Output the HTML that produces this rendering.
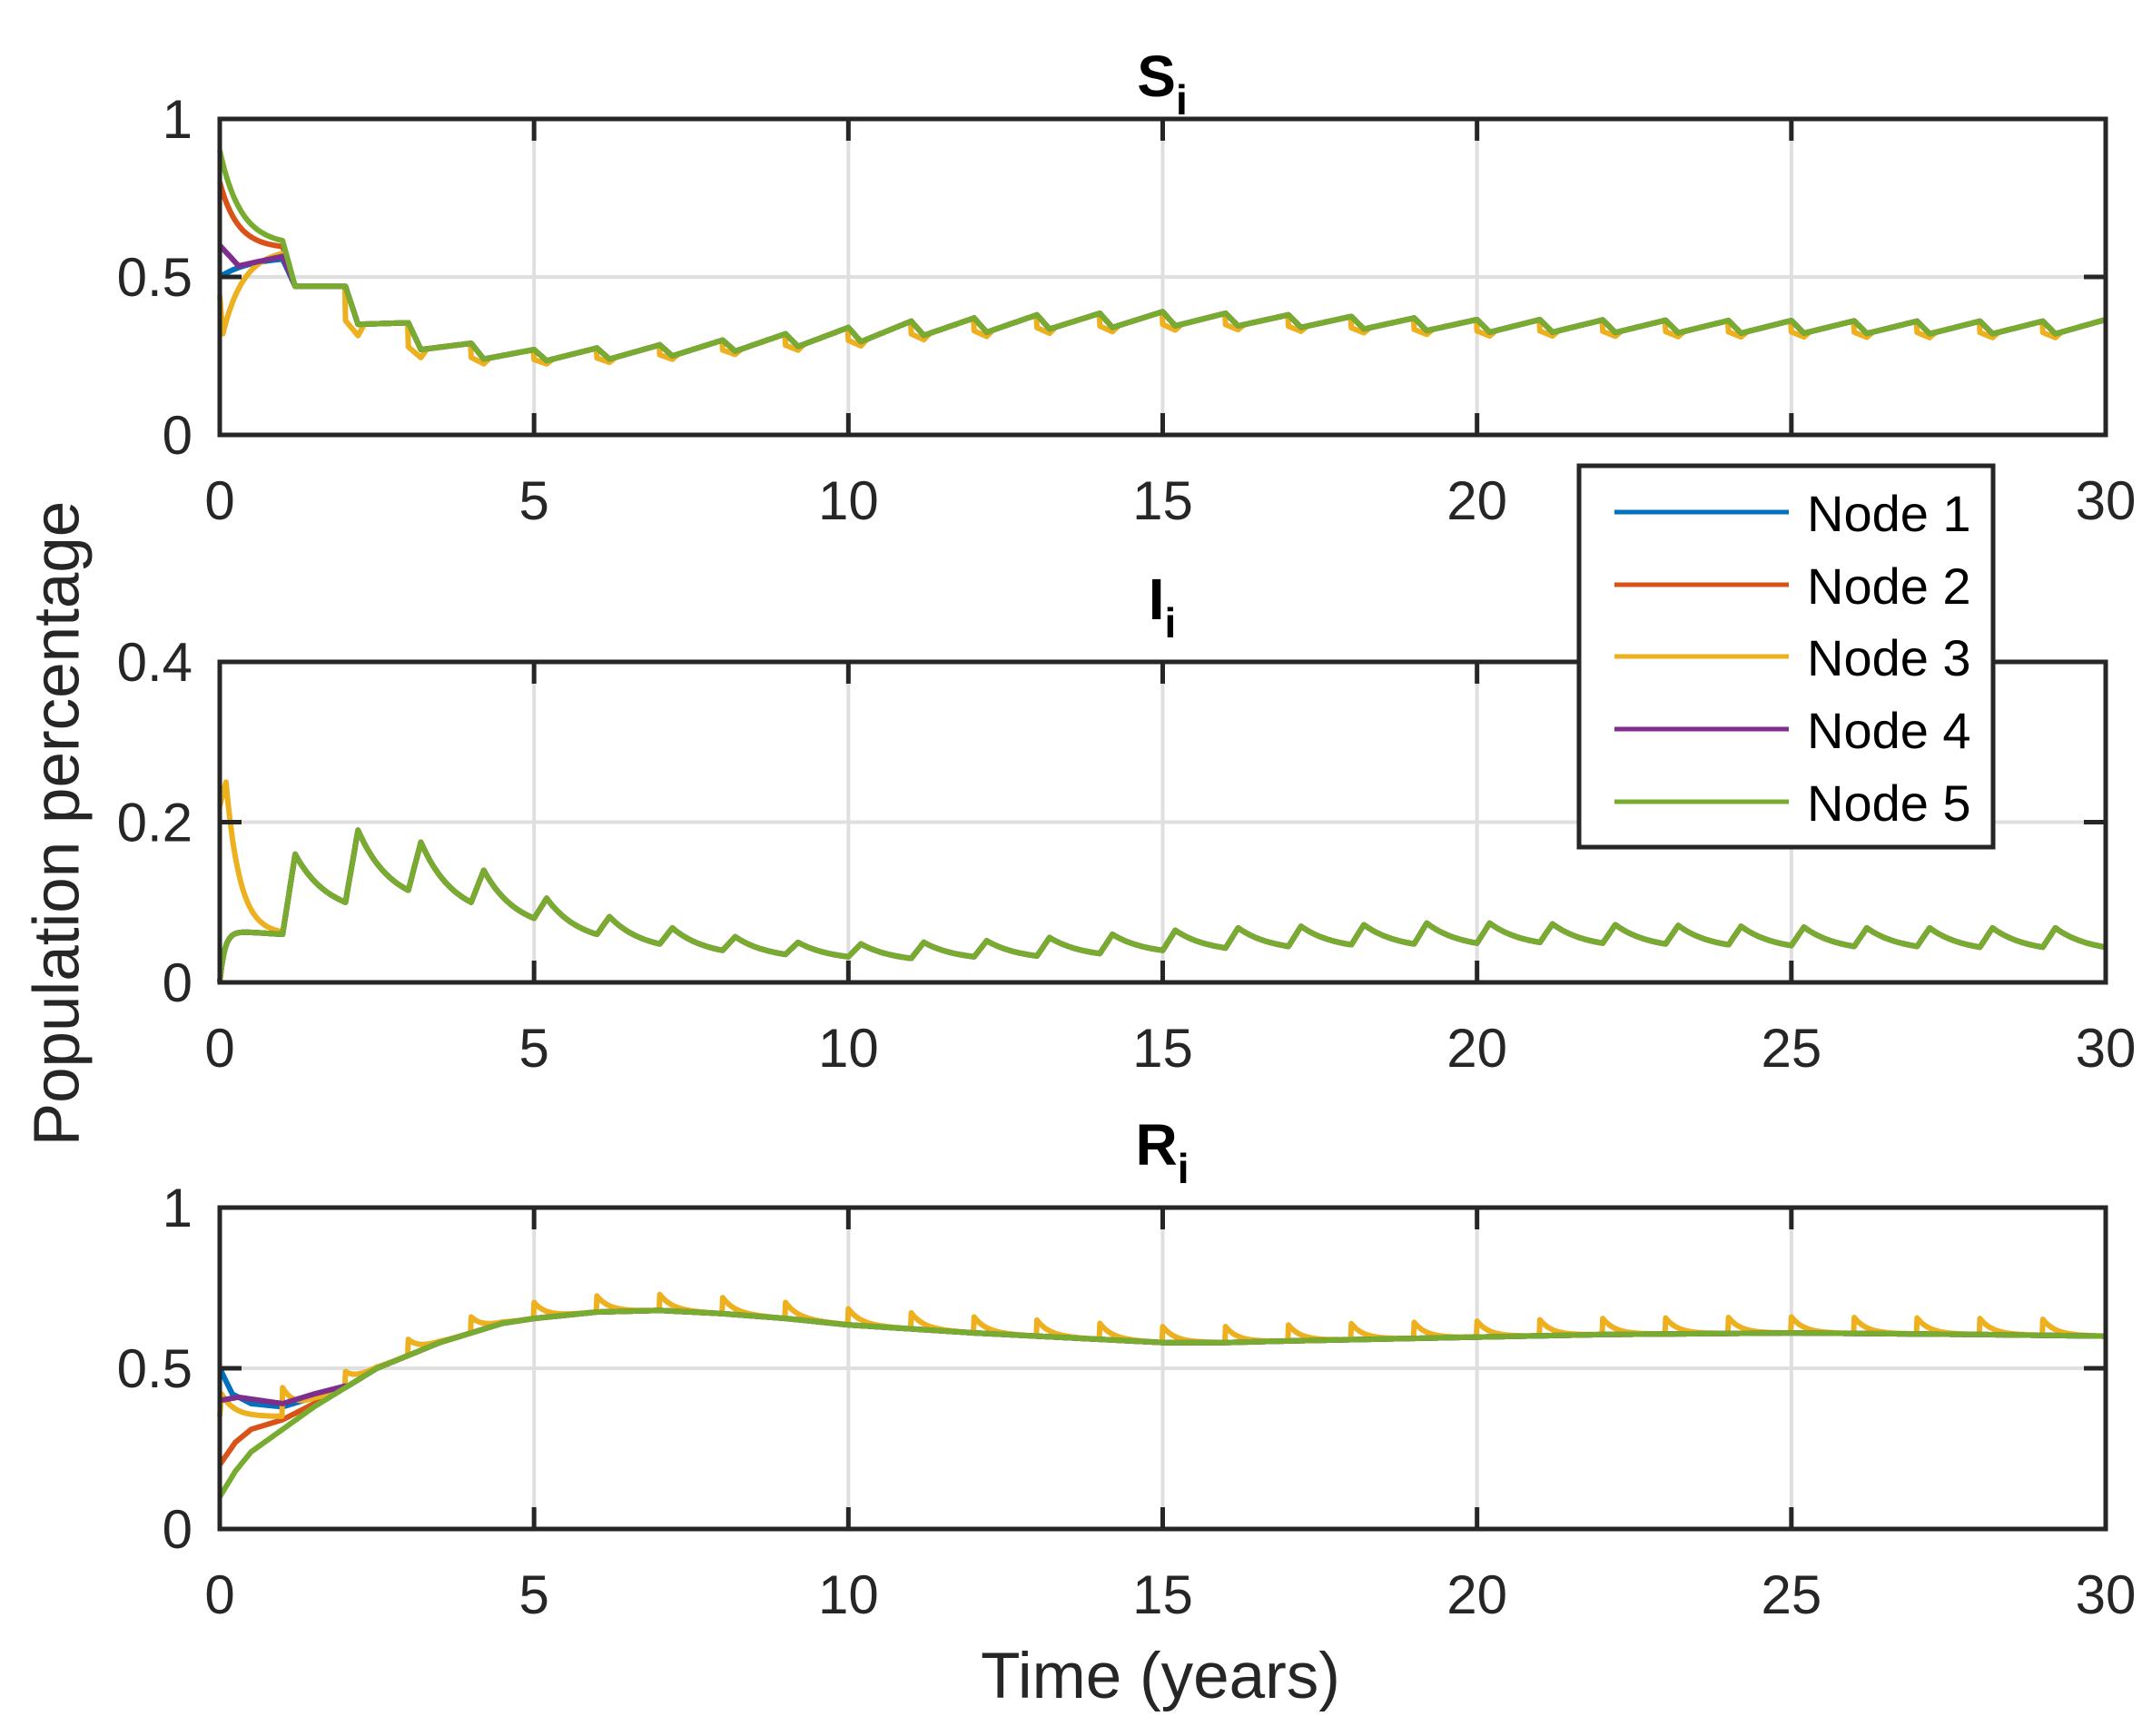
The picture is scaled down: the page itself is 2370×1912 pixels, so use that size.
<!DOCTYPE html>
<html><head><meta charset="utf-8"><style>
html,body{margin:0;padding:0;background:#fff;}
svg{display:block;font-family:"Liberation Sans",Arial,sans-serif;}
</style></head><body>
<svg id="s" width="2370" height="1912" viewBox="0 0 2370 1912" xmlns="http://www.w3.org/2000/svg">
<rect width="2370" height="1912" fill="#fff"/>
<g id="g"></g>
<text x="63" y="907" transform="rotate(-90 63 907)" text-anchor="middle" dominant-baseline="central" font-size="71" fill="#262626">Population percentage</text>
<text x="1278" y="1870" text-anchor="middle" font-size="71" fill="#262626">Time (years)</text>
<text x="1280" y="106" text-anchor="middle" font-size="64" font-weight="bold" fill="#000">S<tspan font-size="46" dy="20">i</tspan></text>
<text x="1280" y="682" text-anchor="middle" font-size="64" font-weight="bold" fill="#000">I<tspan font-size="46" dy="20">i</tspan></text>
<text x="1280" y="1283" text-anchor="middle" font-size="64" font-weight="bold" fill="#000">R<tspan font-size="46" dy="20">i</tspan></text>
<g id="leg">
<rect x="1739" y="513" width="456" height="420" fill="#fff" stroke="#262626" stroke-width="5"/>
<line x1="1778" y1="564" x2="1970" y2="564" stroke="#0072BD" stroke-width="5"/>
<line x1="1778" y1="644" x2="1970" y2="644" stroke="#D95319" stroke-width="5"/>
<line x1="1778" y1="723" x2="1970" y2="723" stroke="#EDB120" stroke-width="5"/>
<line x1="1778" y1="803" x2="1970" y2="803" stroke="#7E2F8E" stroke-width="5"/>
<line x1="1778" y1="883" x2="1970" y2="883" stroke="#77AC30" stroke-width="5"/>
<g font-size="56" fill="#000">
<text x="1990" y="585">Node 1</text>
<text x="1990" y="665">Node 2</text>
<text x="1990" y="744">Node 3</text>
<text x="1990" y="824">Node 4</text>
<text x="1990" y="904">Node 5</text>
</g></g>
</svg>
<script>
const X0=242,X1=2319;
const axes=[{t:131,b:479,ymax:1,yt:[0,0.5,1],yl:["0","0.5","1"]},
{t:729,b:1082,ymax:0.4,yt:[0,0.2,0.4],yl:["0","0.2","0.4"]},
{t:1330,b:1684,ymax:1,yt:[0,0.5,1],yl:["0","0.5","1"]}];
const C=["#0072BD","#D95319","#EDB120","#7E2F8E","#77AC30"];
function lin(pts,t){for(let i=1;i<pts.length;i++){if(t<=pts[i][0]){const a=pts[i-1],b=pts[i];return a[1]+(b[1]-a[1])*(t-a[0])/(b[0]-a[0]);}}return pts[pts.length-1][1];}
const H=[0,0.62,0.47,0.355,0.29,0.27,0.275,0.285,0.30,0.32,0.34,0.36,0.37,0.38,0.385,0.39,0.385,0.38,0.375,0.37,0.365,0.365,0.364,0.363,0.362,0.362,0.361,0.36,0.36,0.36,0.365];
const L=[0,0.47,0.35,0.27,0.24,0.235,0.24,0.25,0.265,0.28,0.295,0.315,0.325,0.335,0.34,0.345,0.345,0.34,0.335,0.33,0.325,0.325,0.324,0.323,0.322,0.322,0.321,0.32,0.32,0.32];
function Sg(t){const k=Math.floor(t);const f=t-k;if(k>=30)return H[30];if(f<0.2)return H[k]+(L[k]-H[k])*f/0.2;return L[k]+(H[k+1]-L[k])*(f-0.2)/0.8;}
function S(n,t){
 if(t<1){
  if(n==4)return 0.6+0.3*Math.exp(-3*t);
  if(n==1)return 0.59+0.21*Math.exp(-3.5*t);
  if(n==3)return t<0.3?0.6-0.065*t/0.3:0.535+0.03*(t-0.3)/0.7;
  if(n==0)return 0.5+0.065*(1-Math.exp(-2*t));
  if(n==2)return t<0.05?0.44-2.4*t:0.59-0.27*Math.exp(-3*(t-0.05));
 }
 if(t<1.2){const v1=S(n,0.9999);return v1+(L[1]-v1)*(t-1)/0.2;}
 let g=Sg(t);
 if(n==2&&t>=2){const k=Math.floor(t),f=t-k;if(f<0.3&&k<30){const D=(H[k]-L[k])*0.9;g-=D*(1-f/0.3);}}
 return g;}
const P=[0,0.16,0.19,0.175,0.14,0.105,0.082,0.068,0.057,0.05,0.048,0.05,0.052,0.056,0.06,0.065,0.068,0.07,0.072,0.074,0.074,0.073,0.072,0.071,0.07,0.069,0.068,0.068,0.068,0.068];
const M=[0,0.06,0.10,0.115,0.10,0.08,0.06,0.048,0.04,0.035,0.032,0.03,0.032,0.033,0.036,0.04,0.043,0.045,0.047,0.048,0.049,0.05,0.049,0.048,0.047,0.046,0.045,0.045,0.044,0.044,0.044];
function I(n,t){
 if(t<1){
  if(n==2){return t<0.1?0.22+0.3*t:0.06+0.19*Math.exp(-(t-0.1)/0.22);}
  return 0.065*(1-Math.exp(-t/0.08))-0.005*t;}
 const k=Math.floor(t),f=t-k;if(k>=30)return M[30];
 if(f<0.2)return M[k]+(P[k]-M[k])*f/0.2;
 const a=1.5,u=(f-0.2)/0.8;
 return M[k+1]+(P[k]-M[k+1])*(Math.exp(-a*u)-Math.exp(-a))/(1-Math.exp(-a));}
const RG=[[0,0.1],[0.25,0.18],[0.5,0.24],[1,0.31],[1.5,0.38],[2,0.44],[2.5,0.5],[3,0.54],[3.5,0.58],[4,0.61],[4.5,0.64],[5,0.655],[6,0.675],[7,0.68],[8,0.67],[9,0.655],[10,0.635],[12,0.61],[14,0.59],[15,0.58],[16,0.58],[17,0.585],[20,0.597],[22,0.605],[25,0.61],[28,0.605],[30,0.6]];
const RO=[[0,0.2],[0.25,0.27],[0.5,0.31],[1,0.34],[1.5,0.39],[2,0.44]];
const RB=[[0,0.5],[0.2,0.42],[0.5,0.39],[1,0.38],[1.5,0.41],[2,0.44]];
const RP=[[0,0.4],[0.3,0.41],[1,0.39],[1.5,0.42],[2,0.445]];
function R(n,t){
 const g=lin(RG,t);
 if(n==2){
  if(t<0.03)return 0.35+0.07*t/0.03;
  if(t<1)return 0.35+0.07*Math.exp(-(t-0.03)/0.2);
  const k=Math.floor(t),f=t-k;
  if(k==1)return g+0.04*(1-f)+0.09*Math.exp(-f/0.2);
  if(k>=30)return g;
  return g+0.05*Math.exp(-f/0.2);}
 if(t>=2)return g;
 if(n==0)return lin(RB,t);if(n==1)return lin(RO,t);if(n==3)return lin(RP,t);return g;}
const F=[S,I,R];
let h="";
axes.forEach((a,ai)=>{
 const Y=v=>a.b-(a.b-a.t)*v/a.ymax;
 for(let x=5;x<30;x+=5){const px=X0+(X1-X0)*x/30;h+=`<line x1="${px}" y1="${a.t}" x2="${px}" y2="${a.b}" stroke="#dfdfdf" stroke-width="4"/>`;}
 const ym=Y(a.yt[1]);h+=`<line x1="${X0}" y1="${ym}" x2="${X1}" y2="${ym}" stroke="#dfdfdf" stroke-width="4"/>`;
 for(let n=0;n<5;n++){let d="";for(let i=0;i<=3000;i++){const t=i*0.01;const px=X0+(X1-X0)*t/30;let v=F[ai](n,t);v=Math.max(0,Math.min(a.ymax,v));d+=(i?"L":"M")+px.toFixed(1)+" "+Y(v).toFixed(1);}
  h+=`<path d="${d}" fill="none" stroke="${C[n]}" stroke-width="6" stroke-linejoin="round"/>`;}
 for(let x=0;x<=30;x+=5){const px=X0+(X1-X0)*x/30;h+=`<line x1="${px}" y1="${a.b}" x2="${px}" y2="${a.b-24}" stroke="#262626" stroke-width="5"/><line x1="${px}" y1="${a.t}" x2="${px}" y2="${a.t+24}" stroke="#262626" stroke-width="5"/>`;
  h+=`<text x="${px}" y="${a.b+93}" text-anchor="middle" font-size="60" fill="#262626">${x}</text>`;}
 a.yt.forEach((v,i)=>{const py=Y(v);h+=`<line x1="${X0}" y1="${py}" x2="${X0+24}" y2="${py}" stroke="#262626" stroke-width="5"/><line x1="${X1}" y1="${py}" x2="${X1-24}" y2="${py}" stroke="#262626" stroke-width="5"/>`;
  h+=`<text x="212" y="${py+21}" text-anchor="end" font-size="60" fill="#262626">${a.yl[i]}</text>`;});
 h+=`<rect x="${X0}" y="${a.t}" width="${X1-X0}" height="${a.b-a.t}" fill="none" stroke="#262626" stroke-width="5"/>`;
});
document.getElementById("g").innerHTML=h;
</script>
</body></html>
